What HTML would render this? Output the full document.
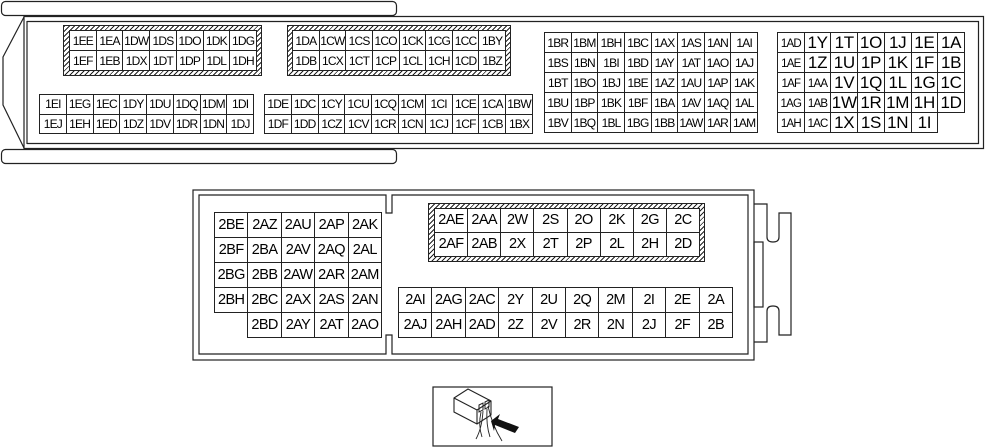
<!DOCTYPE html>
<html><head><meta charset="utf-8"><style>
html,body{margin:0;padding:0;background:#fff;width:985px;height:447px;overflow:hidden;position:relative}
*{box-sizing:border-box}
table{position:absolute;border-collapse:collapse;table-layout:fixed;font-family:"Liberation Sans",Arial,sans-serif;color:#000;background:#fff}
td{border:1px solid #222;padding:0;text-align:center;vertical-align:middle;white-space:nowrap;overflow:visible;line-height:1;background:#fff}
td.e{border:none}
.s td{font-size:12px;letter-spacing:-0.8px}
.f td{font-size:17px;letter-spacing:-0.3px}
.f td.sm{font-size:11.5px;letter-spacing:-0.8px;padding-top:4px}
.m td{font-size:14.5px;letter-spacing:-0.6px}
.h{position:absolute;border:1px solid #222;background:repeating-linear-gradient(135deg,#222 0 1px,#fff 1px 3.5px)}
</style></head><body>
<svg width="985" height="447" style="position:absolute;left:0;top:0" fill="none" stroke="#222" stroke-width="1.2">
<rect x="1.5" y="1.5" width="395" height="14" rx="4"/>
<rect x="1.5" y="149.5" width="395" height="14" rx="4"/>
<path d="M24 16.5H983.5V148.5H24"/>
<path d="M27 21.5H978.5V143.5H27"/>
<path d="M24 16V149M27 21V144"/>
<path d="M24 17L3 57V105L24 148"/>
<rect x="193" y="190" width="561" height="170"/>
<path d="M199 195H386V213H392V195H748V354H392V335H386V354H199Z"/>
<path d="M754 204H767V237Q767 242 773 242Q779 242 779 237V213H791V335H779V311Q779 306 773 306Q767 306 767 311V342H754"/>
<rect x="754" y="242" width="9" height="65"/>
<rect x="433" y="387" width="119" height="59"/>
<path d="M454 398L468 389L491 401L491 415L477 424L454 412Z M454 398L477 410L491 401 M477 410V424" stroke-width="1.1"/>
<path d="M479 405L483 403L483 410L479 412Z M485 402L489 400L489 407L485 409Z" stroke-width="1"/>
<path d="M481 412Q478 425 482 437 M487 409Q486 425 490 437 M483 411Q482 428 476 439 M488 406Q492 425 502 441" stroke-width="0.9"/>
<path d="M491 421L500 414L498 419L519 427L515 433L495 425L494 431Z" fill="#111" stroke="none"/>
</svg>

<div class="h" style="left:63px;top:25px;width:199px;height:51px"></div>
<table class="s" style="left:69px;top:30px;width:188px;height:41px">
<tr><td>1EE</td><td>1EA</td><td>1DW</td><td>1DS</td><td>1DO</td><td>1DK</td><td>1DG</td></tr>
<tr><td>1EF</td><td>1EB</td><td>1DX</td><td>1DT</td><td>1DP</td><td>1DL</td><td>1DH</td></tr>
</table>

<div class="h" style="left:287px;top:25px;width:224px;height:51px"></div>
<table class="s" style="left:292px;top:30px;width:214px;height:41px">
<tr><td>1DA</td><td>1CW</td><td>1CS</td><td>1CO</td><td>1CK</td><td>1CG</td><td>1CC</td><td>1BY</td></tr>
<tr><td>1DB</td><td>1CX</td><td>1CT</td><td>1CP</td><td>1CL</td><td>1CH</td><td>1CD</td><td>1BZ</td></tr>
</table>

<table class="s" style="left:39px;top:94px;width:215px;height:40px">
<tr><td>1EI</td><td>1EG</td><td>1EC</td><td>1DY</td><td>1DU</td><td>1DQ</td><td>1DM</td><td>1DI</td></tr>
<tr><td>1EJ</td><td>1EH</td><td>1ED</td><td>1DZ</td><td>1DV</td><td>1DR</td><td>1DN</td><td>1DJ</td></tr>
</table>

<table class="s" style="left:264px;top:94px;width:269px;height:40px">
<tr><td>1DE</td><td>1DC</td><td>1CY</td><td>1CU</td><td>1CQ</td><td>1CM</td><td>1CI</td><td>1CE</td><td>1CA</td><td>1BW</td></tr>
<tr><td>1DF</td><td>1DD</td><td>1CZ</td><td>1CV</td><td>1CR</td><td>1CN</td><td>1CJ</td><td>1CF</td><td>1CB</td><td>1BX</td></tr>
</table>

<table class="s" style="left:544px;top:32px;width:214px;height:101px">
<tr><td>1BR</td><td>1BM</td><td>1BH</td><td>1BC</td><td>1AX</td><td>1AS</td><td>1AN</td><td>1AI</td></tr>
<tr><td>1BS</td><td>1BN</td><td>1BI</td><td>1BD</td><td>1AY</td><td>1AT</td><td>1AO</td><td>1AJ</td></tr>
<tr><td>1BT</td><td>1BO</td><td>1BJ</td><td>1BE</td><td>1AZ</td><td>1AU</td><td>1AP</td><td>1AK</td></tr>
<tr><td>1BU</td><td>1BP</td><td>1BK</td><td>1BF</td><td>1BA</td><td>1AV</td><td>1AQ</td><td>1AL</td></tr>
<tr><td>1BV</td><td>1BQ</td><td>1BL</td><td>1BG</td><td>1BB</td><td>1AW</td><td>1AR</td><td>1AM</td></tr>
</table>

<table class="f" style="left:777px;top:32px;width:188px;height:101px">
<tr><td class="sm">1AD</td><td>1Y</td><td>1T</td><td>1O</td><td>1J</td><td>1E</td><td>1A</td></tr>
<tr><td class="sm">1AE</td><td>1Z</td><td>1U</td><td>1P</td><td>1K</td><td>1F</td><td>1B</td></tr>
<tr><td class="sm">1AF</td><td class="sm">1AA</td><td>1V</td><td>1Q</td><td>1L</td><td>1G</td><td>1C</td></tr>
<tr><td class="sm">1AG</td><td class="sm">1AB</td><td>1W</td><td>1R</td><td>1M</td><td>1H</td><td>1D</td></tr>
<tr><td class="sm">1AH</td><td class="sm">1AC</td><td>1X</td><td>1S</td><td>1N</td><td>1I</td><td class="e"></td></tr>
</table>

<table class="m" style="left:214px;top:212px;width:168px;height:126px">
<tr><td>2BE</td><td>2AZ</td><td>2AU</td><td>2AP</td><td>2AK</td></tr>
<tr><td>2BF</td><td>2BA</td><td>2AV</td><td>2AQ</td><td>2AL</td></tr>
<tr><td>2BG</td><td>2BB</td><td>2AW</td><td>2AR</td><td>2AM</td></tr>
<tr><td>2BH</td><td>2BC</td><td>2AX</td><td>2AS</td><td>2AN</td></tr>
<tr><td class="e"></td><td>2BD</td><td>2AY</td><td>2AT</td><td>2AO</td></tr>
</table>

<div class="h" style="left:428px;top:203px;width:277px;height:59px"></div>
<table class="m" style="left:434px;top:208px;width:266px;height:49px">
<tr><td>2AE</td><td>2AA</td><td>2W</td><td>2S</td><td>2O</td><td>2K</td><td>2G</td><td>2C</td></tr>
<tr><td>2AF</td><td>2AB</td><td>2X</td><td>2T</td><td>2P</td><td>2L</td><td>2H</td><td>2D</td></tr>
</table>

<table class="m" style="left:398px;top:287px;width:335px;height:51px">
<tr><td>2AI</td><td>2AG</td><td>2AC</td><td>2Y</td><td>2U</td><td>2Q</td><td>2M</td><td>2I</td><td>2E</td><td>2A</td></tr>
<tr><td>2AJ</td><td>2AH</td><td>2AD</td><td>2Z</td><td>2V</td><td>2R</td><td>2N</td><td>2J</td><td>2F</td><td>2B</td></tr>
</table>
</body></html>
